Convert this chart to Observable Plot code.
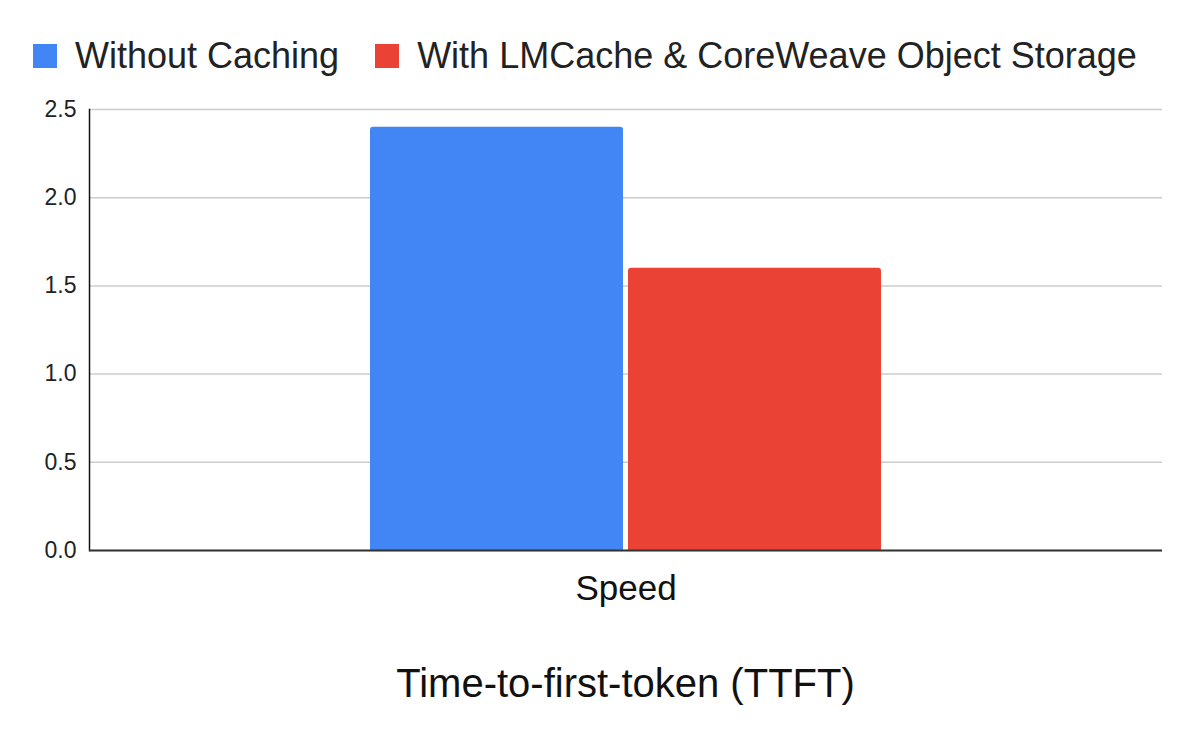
<!DOCTYPE html>
<html>
<head>
<meta charset="utf-8">
<script src="https://cdn.jsdelivr.net/npm/d3@7"></script>
<script src="https://cdn.jsdelivr.net/npm/@observablehq/plot@0.6"></script>
<style>
  html, body { margin: 0; padding: 0; background: #fff; }
  body { width: 1200px; height: 742px; overflow: hidden; font-family: "Liberation Sans", Arial, sans-serif; color: #222; }
  #legend { height: 90px; box-sizing: border-box; padding-top: 35px; padding-left: 33px; }
  #chart svg { display: block; }
  #caption { margin-top: 33px; padding-left: 89px; padding-right: 38px; text-align: center; font-size: 40px; line-height: 40px; color: #111; }
</style>
</head>
<body>
<div id="legend"></div>
<div id="chart"></div>
<div id="caption"></div>
<script>
const categories = ["Speed"];
const series = ["Without Caching", "With LMCache & CoreWeave Object Storage"];
const values = [2.4, 1.6];
const colors = ["#4285f4", "#ea4335"];
const yTicks = [0, 0.5, 1.0, 1.5, 2.0, 2.5];
const titleText = "Time-to-first-token (TTFT)";

const data = series.map((s, i) => ({category: categories[0], series: s, value: values[i]}));

const legend = Plot.legend({
  color: {domain: series, range: colors},
  swatchSize: 24,
  style: {fontSize: "36px", fontFamily: "Liberation Sans, Arial, sans-serif", color: "#222", background: "transparent"}
});
document.getElementById("legend").append(legend);

const chart = Plot.plot({
  width: 1200,
  height: 540,
  marginTop: 19,
  marginBottom: 80,
  marginLeft: 89,
  marginRight: 38,
  style: {fontFamily: "Liberation Sans, Arial, sans-serif", color: "#222", background: "#fff"},
  x: {domain: series, paddingInner: 0.0194, paddingOuter: 1.089, axis: null},
  y: {domain: [0, 2.5], axis: null},
  color: {domain: series, range: colors},
  marks: [
    Plot.gridY(yTicks, {stroke: "#cccccc", strokeOpacity: 1, strokeWidth: 1.5}),
    Plot.axisY({ticks: yTicks, tickFormat: d3.format(".1f"), tickSize: 0, tickPadding: 13, fontSize: 23, label: null, fill: "#222"}),
    Plot.barY(data, {x: "series", y: "value", fill: "series", rx: 3, insetBottom: -6, clip: true}),
    Plot.frame({anchor: "left", stroke: "#111", strokeWidth: 1.5}),
    Plot.ruleY([0], {stroke: "#333", strokeWidth: 2}),
    Plot.text(categories, {text: d => d, frameAnchor: "bottom", lineAnchor: "top", dy: 25, fontSize: 35, fill: "#111"})
  ]
});
document.getElementById("chart").append(chart);
document.getElementById("caption").textContent = titleText;
</script>
</body>
</html>
